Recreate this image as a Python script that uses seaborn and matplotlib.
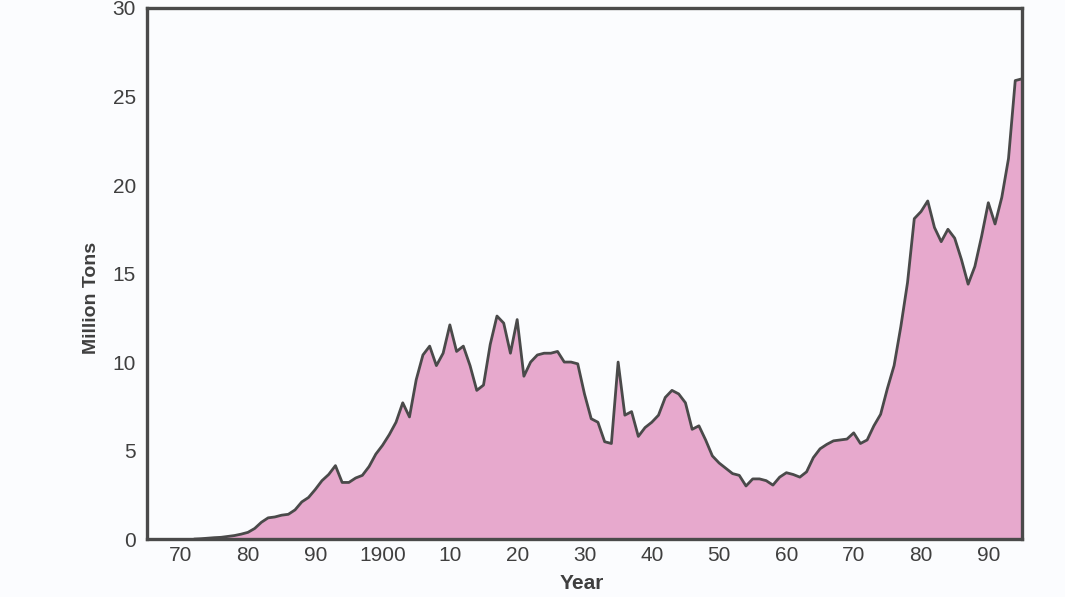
import matplotlib
matplotlib.use("Agg")
import matplotlib.pyplot as plt
import seaborn as sns
import numpy as np
import pandas as pd

years = list(range(1872, 1996))
production = [
    0.0, 0.02, 0.05, 0.08, 0.10, 0.15, 0.20, 0.28,            # 1872-1879
    0.38, 0.60, 0.95, 1.20, 1.25, 1.35, 1.40, 1.65, 2.10, 2.35,  # 1880-1889
    2.80, 3.30, 3.65, 4.15, 3.20, 3.20, 3.45, 3.60, 4.10, 4.80,  # 1890-1899
    5.30, 5.90, 6.60, 7.70, 6.90, 9.00, 10.4, 10.9, 9.80, 10.5,  # 1900-1909
    12.1, 10.6, 10.9, 9.80, 8.40, 8.70, 11.0, 12.6, 12.2, 10.5,  # 1910-1919
    12.4, 9.20, 10.0, 10.4, 10.5, 10.5, 10.6, 10.0, 10.0, 9.90,  # 1920-1929
    8.20, 6.80, 6.60, 5.50, 5.40, 10.0, 7.00, 7.20, 5.80, 6.30,  # 1930-1939
    6.60, 7.00, 8.00, 8.40, 8.20, 7.70, 6.20, 6.40, 5.60, 4.70,  # 1940-1949
    4.30, 4.00, 3.70, 3.60, 3.00, 3.40, 3.40, 3.30, 3.05, 3.50,  # 1950-1959
    3.75, 3.65, 3.50, 3.80, 4.60, 5.10, 5.35, 5.55, 5.60, 5.65,  # 1960-1969
    6.00, 5.40, 5.60, 6.40, 7.05, 8.50, 9.80, 12.0, 14.5, 18.1,  # 1970-1979
    18.5, 19.1, 17.6, 16.8, 17.5, 17.0, 15.8, 14.4, 15.4, 17.1,  # 1980-1989
    19.0, 17.8, 19.3, 21.5, 25.9, 26.0,                          # 1990-1995
]

xticks = [1870, 1880, 1890, 1900, 1910, 1920, 1930, 1940, 1950, 1960, 1970, 1980, 1990]
xtick_labels = ["70", "80", "90", "1900", "10", "20", "30", "40", "50", "60", "70", "80", "90"]
yticks = [0, 5, 10, 15, 20, 25, 30]

df = pd.DataFrame({"Year": years, "Million Tons": production})

sns.set_theme(style="white")
plt.rcParams["font.family"] = ["Liberation Sans", "DejaVu Sans"]

fill_color = "#e7a9cd"
edge_color = "#4a4a4a"
text_color = "#3f3f3f"

fig = plt.figure(figsize=(10.65, 5.97), dpi=100, facecolor="#fbfcfe")
ax = fig.add_axes([0.138, 0.097, 0.8216, 0.8896])
ax.set_facecolor("#fbfcfe")

ax.fill_between(df["Year"], 0, df["Million Tons"], color=fill_color, linewidth=0, zorder=1)
sns.lineplot(data=df, x="Year", y="Million Tons", ax=ax, color=edge_color, linewidth=2.0,
             zorder=2, solid_joinstyle="round", solid_capstyle="round")

ax.set_xlim(1865, 1995)
ax.set_ylim(0, 30)
ax.set_xticks(xticks)
ax.set_xticklabels(xtick_labels)
ax.set_yticks(yticks)

ax.tick_params(axis="both", direction="in", length=10, width=1.4, color=edge_color,
               labelsize=15, labelcolor=text_color, pad=5)
ax.tick_params(axis="y", pad=8)

for s in ax.spines.values():
    s.set_visible(True)
    s.set_color(edge_color)
    s.set_linewidth(2.4)

ax.set_xlabel("Year", fontsize=15, fontweight="bold", color=text_color)
ax.set_ylabel("Million Tons", fontsize=14, fontweight="bold", color=text_color)
ax.xaxis.set_label_coords(0.497, -0.066)
ax.yaxis.set_label_coords(-0.054, 0.455)

fig.savefig("out.png", dpi=100, facecolor=fig.get_facecolor())
